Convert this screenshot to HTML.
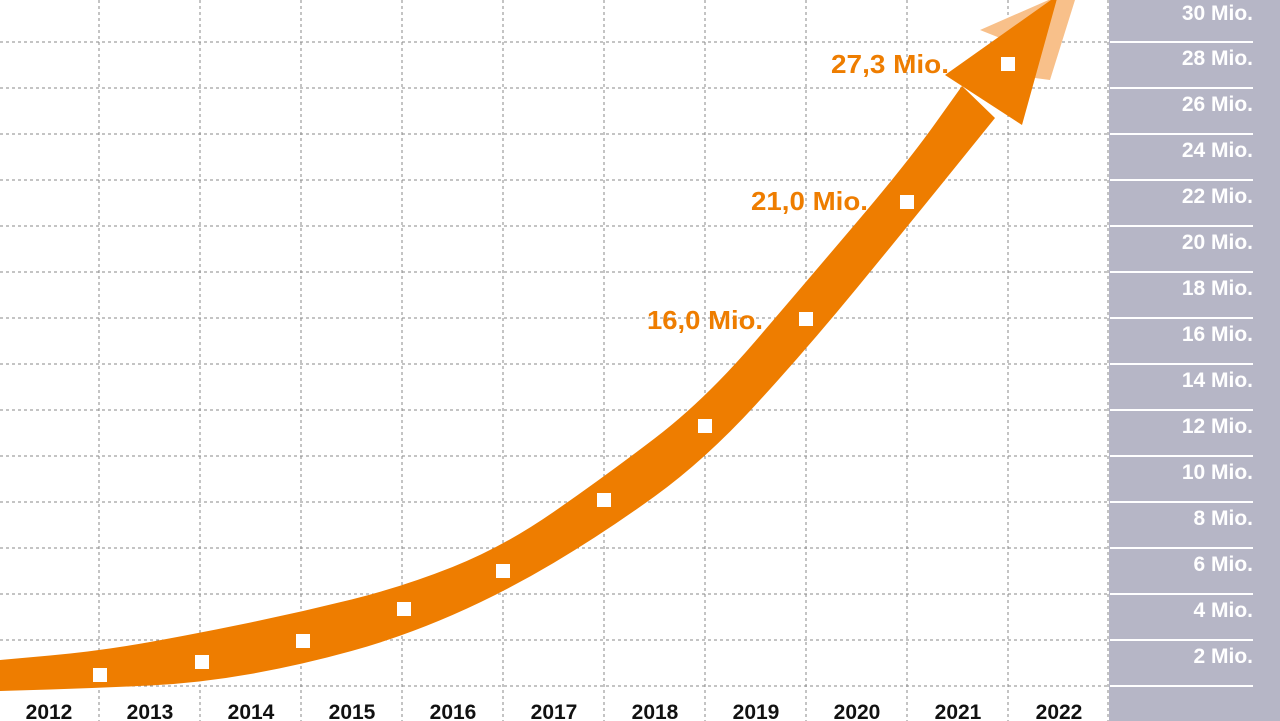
<!DOCTYPE html>
<html><head><meta charset="utf-8"><style>
html,body{margin:0;padding:0;background:#fff;}
svg{display:block}
</style></head><body>
<svg width="1280" height="721" viewBox="0 0 1280 721" xmlns="http://www.w3.org/2000/svg" font-family="Liberation Sans, sans-serif">
<rect x="0" y="0" width="1280" height="721" fill="#fff"/>
<rect x="1109" y="0" width="171" height="721" fill="#b6b6c6"/>
<g stroke="#8a8a8a" stroke-width="1" stroke-dasharray="3,3">
<line x1="0" y1="42" x2="1109" y2="42"/><line x1="0" y1="88" x2="1109" y2="88"/>
<line x1="0" y1="134" x2="1109" y2="134"/><line x1="0" y1="180" x2="1109" y2="180"/>
<line x1="0" y1="226" x2="1109" y2="226"/><line x1="0" y1="272" x2="1109" y2="272"/>
<line x1="0" y1="318" x2="1109" y2="318"/><line x1="0" y1="364" x2="1109" y2="364"/>
<line x1="0" y1="410" x2="1109" y2="410"/><line x1="0" y1="456" x2="1109" y2="456"/>
<line x1="0" y1="502" x2="1109" y2="502"/><line x1="0" y1="548" x2="1109" y2="548"/>
<line x1="0" y1="594" x2="1109" y2="594"/><line x1="0" y1="640" x2="1109" y2="640"/>
<line x1="0" y1="686" x2="1109" y2="686"/>
<line x1="99" y1="0" x2="99" y2="721"/><line x1="200" y1="0" x2="200" y2="721"/>
<line x1="301" y1="0" x2="301" y2="721"/><line x1="402" y1="0" x2="402" y2="721"/>
<line x1="503" y1="0" x2="503" y2="721"/><line x1="604" y1="0" x2="604" y2="721"/>
<line x1="705" y1="0" x2="705" y2="721"/><line x1="806" y1="0" x2="806" y2="721"/>
<line x1="907" y1="0" x2="907" y2="721"/><line x1="1008" y1="0" x2="1008" y2="721"/>
<line x1="1108" y1="0" x2="1108" y2="721"/>
</g>
<g stroke="#fff" stroke-width="2">
<line x1="1110" y1="42" x2="1253" y2="42"/><line x1="1110" y1="88" x2="1253" y2="88"/>
<line x1="1110" y1="134" x2="1253" y2="134"/><line x1="1110" y1="180" x2="1253" y2="180"/>
<line x1="1110" y1="226" x2="1253" y2="226"/><line x1="1110" y1="272" x2="1253" y2="272"/>
<line x1="1110" y1="318" x2="1253" y2="318"/><line x1="1110" y1="364" x2="1253" y2="364"/>
<line x1="1110" y1="410" x2="1253" y2="410"/><line x1="1110" y1="456" x2="1253" y2="456"/>
<line x1="1110" y1="502" x2="1253" y2="502"/><line x1="1110" y1="548" x2="1253" y2="548"/>
<line x1="1110" y1="594" x2="1253" y2="594"/><line x1="1110" y1="640" x2="1253" y2="640"/>
<line x1="1110" y1="686" x2="1253" y2="686"/>
</g>
<g fill="#fff" font-weight="bold" font-size="21" text-anchor="end">
<text x="1253" y="20">30 Mio.</text><text x="1253" y="65">28 Mio.</text>
<text x="1253" y="111">26 Mio.</text><text x="1253" y="157">24 Mio.</text>
<text x="1253" y="203">22 Mio.</text><text x="1253" y="249">20 Mio.</text>
<text x="1253" y="295">18 Mio.</text><text x="1253" y="341">16 Mio.</text>
<text x="1253" y="387">14 Mio.</text><text x="1253" y="433">12 Mio.</text>
<text x="1253" y="479">10 Mio.</text><text x="1253" y="525">8 Mio.</text>
<text x="1253" y="571">6 Mio.</text><text x="1253" y="617">4 Mio.</text>
<text x="1253" y="663">2 Mio.</text>
</g>
<g fill="#111" font-weight="bold" font-size="21" text-anchor="middle">
<text x="49" y="719">2012</text><text x="150" y="719">2013</text><text x="251" y="719">2014</text>
<text x="352" y="719">2015</text><text x="453" y="719">2016</text><text x="554" y="719">2017</text>
<text x="655" y="719">2018</text><text x="756" y="719">2019</text><text x="857" y="719">2020</text>
<text x="958" y="719">2021</text><text x="1059" y="719">2022</text>
</g>
<polygon points="980,30 1060,-5 1075,0 1050,80 1035,78 1030,50" fill="#f8c08a"/>
<path fill="#ee7d00" d="M0,660 L50,655.5 Q100,651 150,642 Q200,633 250.5,622.5 Q301,612 351.5,599.5 Q402,587 452.5,567 Q503,547 553.5,512 Q604,477 654.5,438.5 Q705,400 755.5,341 Q806,282 856.5,222.5 Q907,163 934.5,124.5 L962,86 L995,118 L951,172.5 Q907,227 856.5,288.5 Q806,350 755.5,405 Q705,460 654.5,496.5 Q604,533 553.5,563 Q503,593 452.5,615 Q402,637 351.5,651 Q301,665 250.5,674 Q200,683 150,685.5 Q100,688 50,689.5 L0,691 Z"/>
<polygon points="945,75 1058,-5 1022,125" fill="#ee7d00"/>
<g fill="#fff">
<rect x="93" y="668" width="14" height="14"/><rect x="195" y="655" width="14" height="14"/>
<rect x="296" y="634" width="14" height="14"/><rect x="397" y="602" width="14" height="14"/>
<rect x="496" y="564" width="14" height="14"/><rect x="597" y="493" width="14" height="14"/>
<rect x="698" y="419" width="14" height="14"/><rect x="799" y="312" width="14" height="14"/>
<rect x="900" y="195" width="14" height="14"/><rect x="1001" y="57" width="14" height="14"/>
</g>
<g fill="#ee7d00" font-weight="bold" font-size="26">
<text x="831" y="73" textLength="118" lengthAdjust="spacingAndGlyphs">27,3 Mio.</text>
<text x="751" y="210" textLength="117" lengthAdjust="spacingAndGlyphs">21,0 Mio.</text>
<text x="647" y="329" textLength="116" lengthAdjust="spacingAndGlyphs">16,0 Mio.</text>
</g>
</svg>
</body></html>
